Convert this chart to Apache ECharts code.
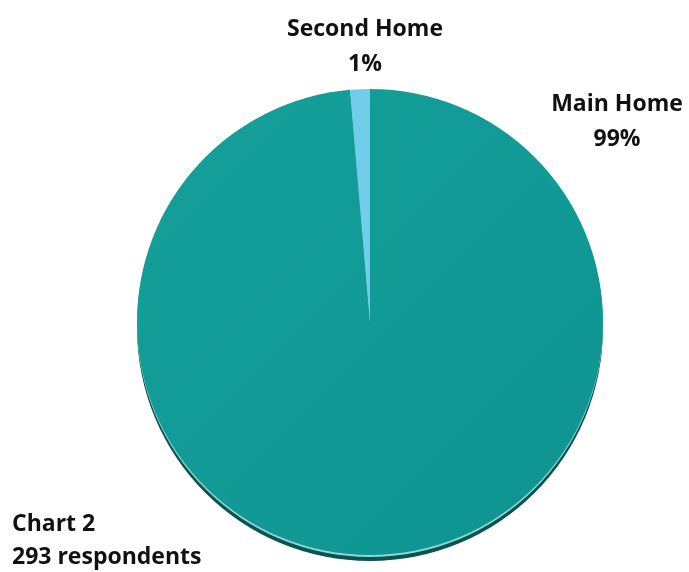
<!DOCTYPE html>
<html>
<head>
<meta charset="utf-8">
<script src="https://cdn.jsdelivr.net/npm/echarts@6/dist/echarts.min.js"></script>
<style>
  html, body { margin: 0; padding: 0; background: #ffffff; }
  #chart { width: 689px; height: 572px; }
</style>
</head>
<body>
<div id="chart"></div>
<script>
// Where respondents live: main home vs second home (counts of 293 respondents)
const categories = ['Main Home', 'Second Home'];
const respondents = [289, 4];
const titleLines = ['Chart 2', '293 respondents'];

const FONT = '"Open Sans", "Liberation Sans", sans-serif';
const CENTER = [370, 322];
const RADIUS = 233;

const faceColors = [
  new echarts.graphic.LinearGradient(0, 0, 1, 1, [
    { offset: 0, color: '#14a09c' },
    { offset: 1, color: '#0e9490' }
  ]),
  '#72cdea'
];

const pieData = categories.map((name, i) => ({ name, value: respondents[i] }));

// Fixed spots for the two slice labels
const labelSpots = [
  { x: 617, y: 122 },
  { x: 365, y: 47 }
];

const chart = echarts.init(document.getElementById('chart'), null, { renderer: 'canvas' });

chart.setOption({
  backgroundColor: '#ffffff',
  animation: false,
  title: {
    text: titleLines.join('\n'),
    left: 7,
    top: 503,
    textStyle: {
      fontFamily: FONT,
      fontWeight: 'bold',
      fontSize: 23,
      lineHeight: 33,
      color: '#111111'
    }
  },
  series: [
    // dark rim under the disc
    {
      type: 'pie',
      silent: true,
      z: 1,
      center: [CENTER[0], CENTER[1] + 6],
      radius: RADIUS,
      startAngle: 90,
      clockwise: true,
      label: { show: false },
      labelLine: { show: false },
      itemStyle: { color: '#0a5351' },
      data: pieData
    },
    // thin light edge between disc and rim
    {
      type: 'pie',
      silent: true,
      z: 2,
      center: [CENTER[0], CENTER[1] + 2],
      radius: RADIUS,
      startAngle: 90,
      clockwise: true,
      label: { show: false },
      labelLine: { show: false },
      itemStyle: { color: '#8fd6d2' },
      data: pieData
    },
    // main disc
    {
      type: 'pie',
      z: 3,
      center: CENTER,
      radius: RADIUS,
      startAngle: 90,
      clockwise: true,
      percentPrecision: 0,
      data: pieData.map((d, i) => ({ ...d, itemStyle: { color: faceColors[i], borderWidth: 0 } })),
      label: {
        show: true,
        position: 'outside',
        formatter: '{b}\n{d}%',
        fontFamily: FONT,
        fontWeight: 'bold',
        fontSize: 23,
        lineHeight: 35,
        color: '#111111',
        align: 'center'
      },
      labelLine: { show: false },
      labelLayout: function (params) {
        const spot = labelSpots[params.dataIndex];
        return {
          x: spot.x,
          y: spot.y,
          align: 'center',
          verticalAlign: 'middle'
        };
      }
    }
  ]
});
</script>
</body>
</html>
